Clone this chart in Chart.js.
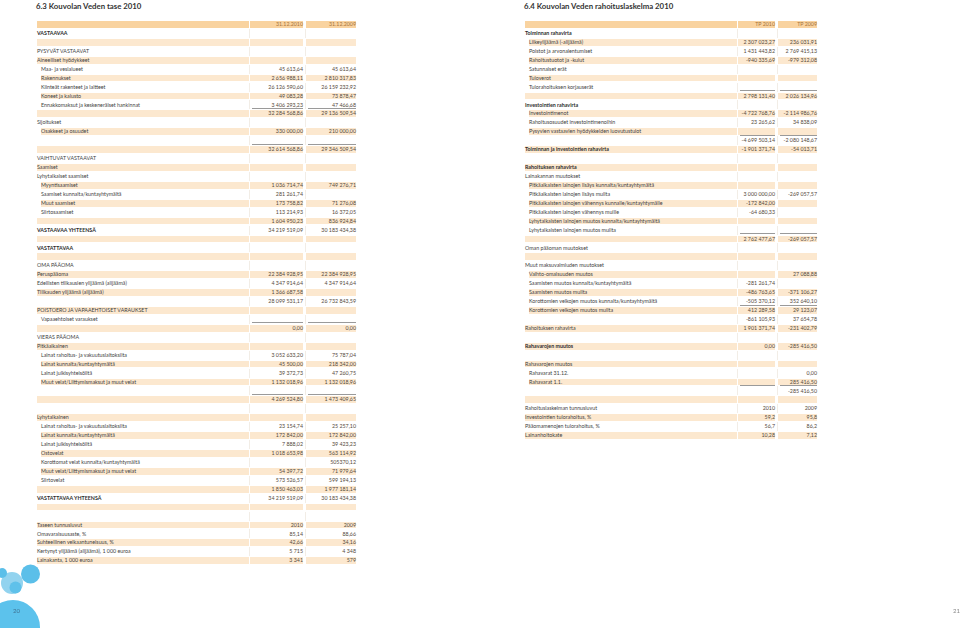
<!DOCTYPE html>
<html>
<head>
<meta charset="utf-8">
<script src="https://cdn.jsdelivr.net/npm/chart.js@4.4.1/dist/chart.umd.min.js"></script>
<style>
  html, body { margin: 0; padding: 0; background: #fff; width: 960px; height: 628px; overflow: hidden; }
  body { position: relative; font-family: Lato, "Open Sans", sans-serif; color: #3f3f3f; }
  h2 { position: absolute; margin: 0; font-size: 7.8px; font-weight: bold; color: #333; top: 1px; white-space: nowrap; }
  .tbl { position: absolute; }
  .row { display: flex; height: 8.95px; font-size: 5.3px; }
  .row > div { box-sizing: border-box; padding: 1.1px 0; background-clip: content-box; line-height: 6.75px; white-space: nowrap; position: relative; }
  .row.alt > div { background-color: #fce8cf; }
  .row.head > div { background-color: #f9d3a0; color: #a8743a; }
  .lab { padding-left: 3px !important; }
  .lab.ind { padding-left: 7px !important; }
  .lab.b { font-weight: bold; color: #2e2e2e; }
  .val { text-align: right; padding-right: 2px !important; border-left: 1px solid #f2ede6; color: #54483a; }
  .row.alt .val, .row.head .val { border-left-color: #fff; }
  .val.rule::after { content: ''; position: absolute; left: 2px; right: 2px; bottom: 0.6px; height: 0.8px; background: #9a9a9a; }
  #bubbles { position: absolute; left: 0; top: 540px; width: 60px; height: 88px; }
  .pg { position: absolute; font-size: 6px; color: #3f7394; }
</style>
</head>
<body>
<h2 style="left:36px">6.3 Kouvolan Veden tase 2010</h2>
<h2 style="left:524px">6.4 Kouvolan Veden rahoituslaskelma 2010</h2>
<div id="tase" class="tbl" style="left:34px; top:20px"></div>
<div id="rah" class="tbl" style="left:522px; top:20px"></div>
<canvas id="bubbles" width="60" height="88"></canvas>
<div class="pg" style="left:13px; top:607px">20</div>
<div class="pg" style="left:953px; top:607px; color:#888">21</div>
<script>
// Tase (balance sheet)
const taseHeader = ['31.12.2010', '31.12.2009'];
const taseLabels = [
  'VASTAAVAA', '', 'PYSYVÄT VASTAAVAT', 'Aineelliset hyödykkeet',
  'Maa- ja vesialueet', 'Rakennukset', 'Kiinteät rakenteet ja laitteet', 'Koneet ja kalusto',
  'Ennakkomaksut ja keskeneräiset hankinnat', '', 'Sijoitukset', 'Osakkeet ja osuudet', '', '',
  'VAIHTUVAT VASTAAVAT', 'Saamiset', 'Lyhytaikaiset saamiset', 'Myyntisaamiset',
  'Saamiset kunnalta/kuntayhtymältä', 'Muut saamiset', 'Siirtosaamiset', '',
  'VASTAAVAA YHTEENSÄ', '', 'VASTATTAVAA', '',
  'OMA PÄÄOMA', 'Peruspääoma', 'Edellisten tilikausien ylijäämä (alijäämä)', 'Tilikauden ylijäämä (alijäämä)', '',
  'POISTOERO JA VAPAAEHTOISET VARAUKSET', 'Vapaaehtoiset varaukset', '',
  'VIERAS PÄÄOMA', 'Pitkäaikainen', 'Lainat rahoitus- ja vakuutuslaitoksilta', 'Lainat kunnalta/kuntayhtymältä',
  'Lainat julkisyhteisöiltä', 'Muut velat/Liittymismaksut ja muut velat', '', '', '',
  'Lyhytaikainen', 'Lainat rahoitus- ja vakuutuslaitoksilta', 'Lainat kunnalta/kuntayhtymältä',
  'Lainat julkisyhteisöiltä', 'Ostovelat', 'Korottomat velat kunnalta/kuntayhtymältä',
  'Muut velat/Liittymismaksut ja muut velat', 'Siirtovelat', '',
  'VASTATTAVAA YHTEENSÄ', '', '',
  'Taseen tunnusluvut', 'Omavaraisuusaste, %', 'Suhteellinen velkaantuneisuus, %',
  'Kertynyt ylijäämä (alijäämä), 1 000 euroa', 'Lainakanta, 1 000 euroa'
];
const tase2010 = [
  '', '', '', '',
  '45 613,64', '2 656 988,11', '26 126 590,60', '49 083,28',
  '3 406 293,23', '32 284 568,86', '', '330 000,00', '', '32 614 568,86',
  '', '', '', '1 036 714,74',
  '281 261,74', '173 758,82', '113 214,93', '1 604 950,23',
  '34 219 519,09', '', '', '',
  '', '22 384 928,95', '4 347 914,64', '1 366 687,58', '28 099 531,17',
  '', '', '0,00',
  '', '', '3 052 633,20', '45 500,00',
  '39 372,73', '1 132 018,96', '', '4 269 524,80', '',
  '', '23 154,74', '172 842,00',
  '7 888,02', '1 018 653,98', '',
  '54 397,72', '573 526,57', '1 850 463,03',
  '34 219 519,09', '', '',
  '2010', '85,14', '42,66', '5 715', '3 341'
];
const tase2009 = [
  '', '', '', '',
  '45 613,64', '2 810 317,83', '26 159 232,92', '73 878,47',
  '47 466,68', '29 136 509,54', '', '210 000,00', '', '29 346 509,54',
  '', '', '', '749 276,71',
  '', '71 276,08', '16 372,05', '836 924,84',
  '30 183 434,38', '', '', '',
  '', '22 384 928,95', '4 347 914,64', '', '26 732 843,59',
  '', '', '0,00',
  '', '', '75 787,04', '218 342,00',
  '47 260,75', '1 132 018,96', '', '1 473 409,65', '',
  '', '25 257,10', '172 842,00',
  '39 423,23', '563 114,92', '505370,12',
  '71 979,64', '599 194,13', '1 977 181,14',
  '30 183 434,38', '', '',
  '2009', '88,66', '34,16', '4 348', '579'
];
const taseBold = [0, 22, 24, 52];
const taseIndent = [4, 5, 6, 7, 8, 11, 17, 18, 19, 20, 32, 36, 37, 38, 39, 44, 45, 46, 47, 48, 49, 50];
const taseRule = [8, 12, 32, 40];

// Rahoituslaskelma (cash flow)
const rahHeader = ['TP 2010', 'TP 2009'];
const rahLabels = [
  'Toiminnan rahavirta', 'Liikeylijäämä (-alijäämä)', 'Poistot ja arvonalentumiset', 'Rahoitustuotot ja -kulut',
  'Satunnaiset erät', 'Tuloverot', 'Tulorahoituksen korjauserät', '',
  'Investointien rahavirta', 'Investointimenot', 'Rahoitusosuudet investointimenoihin',
  'Pysyvien vastaavien hyödykkeiden luovutustulot', '',
  'Toiminnan ja investointien rahavirta', '',
  'Rahoituksen rahavirta', 'Lainakannan muutokset',
  'Pitkäaikaisten lainojen lisäys kunnalta/kuntayhtymältä', 'Pitkäaikaisten lainojen lisäys muilta',
  'Pitkäaikaisten lainojen vähennys kunnalle/kuntayhtymälle', 'Pitkäaikaisten lainojen vähennys muille',
  'Lyhytaikaisten lainojen muutos kunnalta/kuntayhtymältä', 'Lyhytaikaisten lainojen muutos muilta', '',
  'Oman pääoman muutokset', '',
  'Muut maksuvalmiuden muutokset', 'Vaihto-omaisuuden muutos', 'Saamisten muutos kunnalta/kuntayhtymältä',
  'Saamisten muutos muilta', 'Korottomien velkojen muutos kunnalta/kuntayhtymältä',
  'Korottomien velkojen muutos muilta', '', 'Rahoituksen rahavirta', '',
  'Rahavarojen muutos', '', 'Rahavarojen muutos', 'Rahavarat 31.12.', 'Rahavarat 1.1.', '', '',
  'Rahoituslaskelman tunnusluvut', 'Investointien tulorahoitus, %', 'Pääomamenojen tulorahoitus, %', 'Lainanhoitokate'
];
const rah2010 = [
  '', '2 307 023,27', '1 431 443,82', '-940 335,69',
  '', '', '', '2 798 131,40',
  '', '-4 722 768,76', '23 265,62',
  '', '-4 699 503,14',
  '-1 901 371,74', '',
  '', '',
  '', '3 000 000,00',
  '-172 842,00', '-64 680,33',
  '', '', '2 762 477,67',
  '', '',
  '', '', '-281 261,74',
  '-486 763,65', '-505 370,12',
  '412 289,58', '-861 105,93', '1 901 371,74', '',
  '0,00', '', '', '', '', '', '',
  '2010', '59,2', '56,7', '10,28'
];
const rah2009 = [
  '', '236 031,91', '2 769 415,13', '-979 312,08',
  '', '', '', '2 026 134,96',
  '', '-2 114 986,76', '34 838,09',
  '', '-2 080 148,67',
  '-54 013,71', '',
  '', '',
  '', '-269 057,57',
  '', '',
  '', '', '-269 057,57',
  '', '',
  '', '27 088,88', '',
  '-371 106,27', '352 640,10',
  '29 123,07', '37 654,78', '-231 402,79', '',
  '-285 416,50', '', '', '0,00', '285 416,50', '-285 416,50', '',
  '2009', '95,8', '86,2', '7,12'
];
const rahBold = [0, 8, 13, 15, 35];
const rahIndent = [1, 2, 3, 4, 5, 6, 9, 10, 11, 17, 18, 19, 20, 21, 22, 27, 28, 29, 30, 31, 38, 39];
const rahRule = [6, 11, 22, 30, 39];

// decorative circles, bottom-left corner (page pixels)
const bubbleX = [12, 2, 30.5, 15.5, 13];
const bubbleY = [583, 573, 574, 587.5, 627];
const bubbleR = [11, 5, 9.5, 6, 27];
const bubbleColors = ['#92d3ef', '#5bbfe9', '#5bbfe9', '#5fc1ea', '#5cc2ec'];

function buildTable(el, header, labels, v1, v2, bold, indent, rule, widths) {
    const mk = (cls, txt, w) => {
        const d = document.createElement('div');
        d.className = cls;
        d.style.width = w + 'px';
        d.textContent = txt;
        return d;
    };
    const head = document.createElement('div');
    head.className = 'row head';
    head.appendChild(mk('lab', '', widths[0]));
    head.appendChild(mk('val', header[0], widths[1]));
    head.appendChild(mk('val', header[1], widths[2]));
    el.appendChild(head);

    labels.forEach((lab, i) => {
        const r = document.createElement('div');
        r.className = 'row' + (i % 2 === 1 ? ' alt' : '');
        let lc = 'lab';
        if (indent.includes(i)) lc += ' ind';
        if (bold.includes(i)) lc += ' b';
        const rc = rule.includes(i) ? ' rule' : '';
        r.appendChild(mk(lc, lab, widths[0]));
        r.appendChild(mk('val' + rc, v1[i], widths[1]));
        r.appendChild(mk('val' + rc, v2[i], widths[2]));
        el.appendChild(r);
    });
}

buildTable(document.getElementById('tase'), taseHeader, taseLabels, tase2010, tase2009,
    taseBold, taseIndent, taseRule, [215, 56, 53]);
buildTable(document.getElementById('rah'), rahHeader, rahLabels, rah2010, rah2009,
    rahBold, rahIndent, rahRule, [215, 40, 42]);

// ----------------------------------------------------
// Bubble chart for the blue circles in the corner
// ----------------------------------------------------
const bubbleData = bubbleX.map((x, i) => ({ x: x, y: bubbleY[i], r: bubbleR[i] }));
new Chart(document.getElementById('bubbles').getContext('2d'), {
    type: 'bubble',
    data: {
        datasets: [{
            data: bubbleData,
            backgroundColor: bubbleColors,
            borderWidth: 0,
            hoverRadius: 0,
            clip: false
        }]
    },
    options: {
        responsive: false,
        animation: false,
        events: [],
        layout: { padding: 0, autoPadding: false },
        plugins: { legend: { display: false }, tooltip: { enabled: false } },
        scales: {
            x: { type: 'linear', min: 0, max: 60, display: false, offset: false },
            y: { type: 'linear', min: 540, max: 628, reverse: true, display: false, offset: false }
        }
    }
});
</script>
</body>
</html>
